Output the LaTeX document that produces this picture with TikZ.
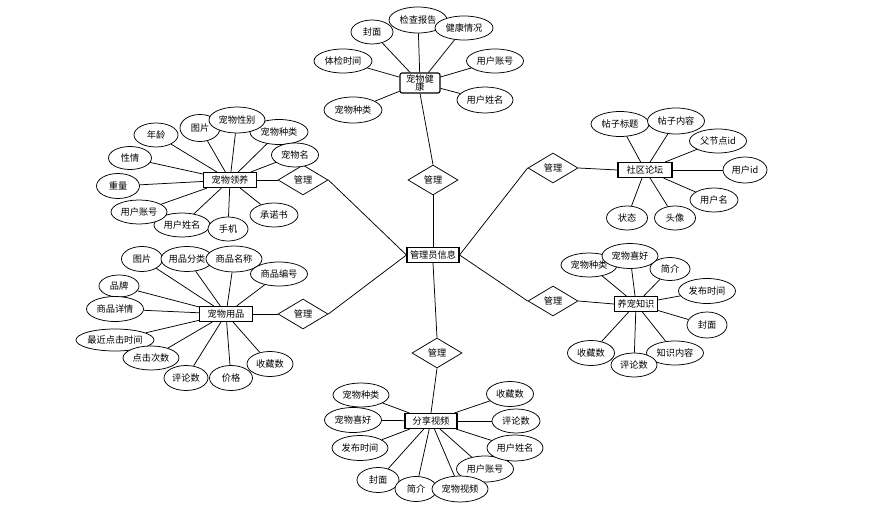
\documentclass[tikz,border=0pt]{standalone}
\usepackage{fontspec}
\setmainfont{Noto Sans CJK SC}
\usetikzlibrary{shapes.geometric}
\pgfdeclarelayer{bg}
\pgfsetlayers{bg,main}
\newcommand\erfont{\fontsize{9.2bp}{9.8bp}\selectfont}
\tikzset{
 attr/.style={ellipse, draw, fill=white, line width=0.75bp, minimum height=24bp, inner sep=0pt, font=\erfont},
 ent/.style={rectangle, draw, fill=white, line width=1.1bp, minimum height=15bp, inner sep=0pt, font=\erfont},
 rel/.style={diamond, draw, fill=white, line width=0.75bp, minimum width=50bp, minimum height=30bp, inner sep=0pt, font=\erfont},
 conn/.style={line width=0.75bp}
}
\begin{document}
\begin{tikzpicture}[x=1bp,y=-1bp]
\useasboundingbox (0,0) rectangle (870,515);
% entities
\node[ent, minimum width=52bp] (admin) at (433,255) {管理员信息};
\node[ent, rounded corners=2bp, minimum width=40bp, minimum height=20bp, align=center] (jk) at (420,83) {宠物健\\[-1bp]康};
\node[ent, minimum width=53bp] (ly) at (230,180) {宠物领养};
\node[ent, minimum width=53bp] (yp) at (226,314) {宠物用品};
\node[ent, minimum width=52bp] (sp) at (431,421) {分享视频};
\node[ent, minimum width=54bp] (lt) at (645,170) {社区论坛};
\node[ent, minimum width=43bp] (zs) at (636,304) {养宠知识};
% relations
\node[rel] (r1) at (303,180) {管理};
\node[rel] (r2) at (303,314) {管理};
\node[rel] (r3) at (433,180) {管理};
\node[rel] (r4) at (437,353) {管理};
\node[rel] (r5) at (553,168) {管理};
\node[rel] (r6) at (553,301) {管理};
% 宠物健康 attributes
\node[attr, minimum width=42bp] (jk1) at (372,32) {封面};
\node[attr, minimum width=58bp, minimum height=26bp] (jk2) at (418,20) {检查报告};
\node[attr, minimum width=58bp] (jk3) at (464,28) {健康情况};
\node[attr, minimum width=58bp] (jk4) at (343,61) {体检时间};
\node[attr, minimum width=57bp] (jk5) at (495,61) {用户账号};
\node[attr, minimum width=56bp, minimum height=26bp] (jk6) at (485,100) {用户姓名};
\node[attr, minimum width=58bp, minimum height=26bp] (jk7) at (353,110) {宠物种类};
% 宠物领养 attributes
\node[attr, minimum width=44bp] (ly1) at (156,135) {年龄};
\node[attr, minimum width=40bp, minimum height=27bp] (ly2) at (200,128) {图片};
\node[attr, minimum width=58bp, minimum height=25bp] (ly4) at (279,132) {宠物种类};
\node[attr, minimum width=56bp, minimum height=26bp] (ly3) at (237,120) {宠物性别};
\node[attr, minimum width=47bp] (ly5) at (295,155) {宠物名};
\node[attr, minimum width=43bp, minimum height=23bp] (ly6) at (130,158) {性情};
\node[attr, minimum width=43bp, minimum height=25bp] (ly7) at (118,186) {重量};
\node[attr, minimum width=56bp] (ly9) at (182,225) {用户姓名};
\node[attr, minimum width=56bp] (ly8) at (139,212) {用户账号};
\node[attr, minimum width=40bp] (ly10) at (228,229) {手机};
\node[attr, minimum width=48bp] (ly11) at (274,215) {承诺书};
% 宠物用品 attributes
\node[attr, minimum width=41bp, minimum height=25bp] (yp1) at (142,259) {图片};
\node[attr, minimum width=50bp, minimum height=25bp] (yp2) at (187,259) {用品分类};
\node[attr, minimum width=56bp, minimum height=26bp] (yp3) at (234,259) {商品名称};
\node[attr, minimum width=57bp] (yp4) at (279,274) {商品编号};
\node[attr, minimum width=40bp, minimum height=22bp] (yp5) at (119,286) {品牌};
\node[attr, minimum width=57bp, minimum height=25bp] (yp6) at (115,309) {商品详情};
\node[attr, minimum width=76bp, minimum height=22bp] (yp7) at (115,340) {最近点击时间};
\node[attr, minimum width=56bp] (yp8) at (151,358) {点击次数};
\node[attr, minimum width=44bp, minimum height=25bp] (yp9) at (186,378) {评论数};
\node[attr, minimum width=43bp, minimum height=25bp] (yp10) at (231,378) {价格};
\node[attr, minimum width=46bp, minimum height=25bp] (yp11) at (270,364) {收藏数};
% 分享视频 attributes
\node[attr, minimum width=56bp] (sp1) at (361,395) {宠物种类};
\node[attr, minimum width=57bp, minimum height=25bp] (sp2) at (353,420) {宠物喜好};
\node[attr, minimum width=56bp, minimum height=25bp] (sp3) at (360,448) {发布时间};
\node[attr, minimum width=42bp, minimum height=25bp] (sp4) at (378,480) {封面};
\node[attr, minimum width=42bp, minimum height=25bp] (sp5) at (416,489) {简介};
\node[attr, minimum width=57bp, minimum height=26bp] (sp7) at (485,469) {用户账号};
\node[attr, minimum width=56bp, minimum height=26bp] (sp6) at (460,489) {宠物视频};
\node[attr, minimum width=56bp, minimum height=26bp] (sp8) at (515,448) {用户姓名};
\node[attr, minimum width=48bp] (sp9) at (516,421) {评论数};
\node[attr, minimum width=47bp, minimum height=25bp] (sp10) at (510,394) {收藏数};
% 社区论坛 attributes
\node[attr, minimum width=58bp, minimum height=25bp] (lt1) at (620,124) {帖子标题};
\node[attr, minimum width=57bp, minimum height=26bp] (lt2) at (676,121) {帖子内容};
\node[attr, minimum width=57bp] (lt3) at (718,141) {父节点id};
\node[attr, minimum width=44bp, minimum height=26bp] (lt4) at (745,170) {用户id};
\node[attr, minimum width=48bp] (lt5) at (714,200) {用户名};
\node[attr, minimum width=41bp] (lt6) at (627,218) {状态};
\node[attr, minimum width=41bp] (lt7) at (675,218) {头像};
% 养宠知识 attributes
\node[attr, minimum width=56bp] (zs1) at (589,265) {宠物种类};
\node[attr, minimum width=56bp, minimum height=25bp] (zs2) at (630,256) {宠物喜好};
\node[attr, minimum width=40bp, minimum height=23bp] (zs3) at (670,269) {简介};
\node[attr, minimum width=57bp, minimum height=25bp] (zs4) at (707,291) {发布时间};
\node[attr, minimum width=40bp, minimum height=26bp] (zs5) at (707,325) {封面};
\node[attr, minimum width=57bp] (zs6) at (675,353) {知识内容};
\node[attr, minimum width=46bp] (zs7) at (634,365) {评论数};
\node[attr, minimum width=47bp, minimum height=25bp] (zs8) at (591,353) {收藏数};
% connectors
\begin{pgfonlayer}{bg}
\foreach \a in {jk1,jk2,jk3,jk4,jk5,jk6,jk7} \draw[conn] (\a) -- (jk);
\foreach \a in {ly1,ly2,ly3,ly4,ly5,ly6,ly7,ly8,ly9,ly10,ly11} \draw[conn] (\a) -- (ly);
\foreach \a in {yp1,yp2,yp3,yp4,yp5,yp6,yp7,yp8,yp9,yp10,yp11} \draw[conn] (\a) -- (yp);
\foreach \a in {sp1,sp2,sp3,sp4,sp5,sp6,sp7,sp8,sp9,sp10} \draw[conn] (\a) -- (sp);
\foreach \a in {lt1,lt2,lt3,lt4,lt5,lt6,lt7} \draw[conn] (\a) -- (lt);
\foreach \a in {zs1,zs2,zs3,zs4,zs5,zs6,zs7,zs8} \draw[conn] (\a) -- (zs);
\draw[conn] (admin.west) -- (r1.east);
\draw[conn] (admin.west) -- (r2.east);
\draw[conn] (admin.north) -- (r3.south);
\draw[conn] (admin.south) -- (r4.north);
\draw[conn] (admin.east) -- (r5.west);
\draw[conn] (admin.east) -- (r6.west);
\draw[conn] (r1.west) -- (ly.east);
\draw[conn] (r2.west) -- (yp.east);
\draw[conn] (r3.north) -- (jk.south);
\draw[conn] (r4.south) -- (sp.north);
\draw[conn] (r5.east) -- (lt.west);
\draw[conn] (r6.east) -- (zs.west);
\end{pgfonlayer}
\end{tikzpicture}
\end{document}
